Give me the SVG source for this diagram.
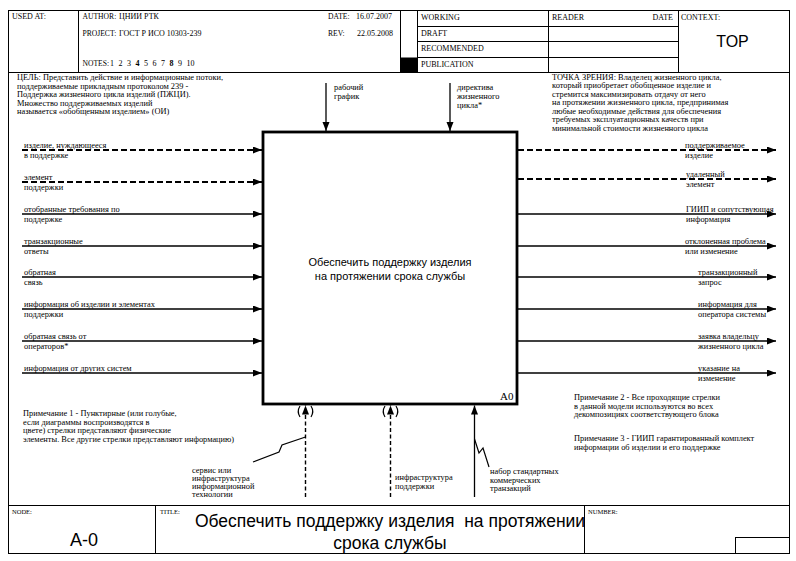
<svg xmlns="http://www.w3.org/2000/svg" width="796" height="561" viewBox="0 0 796 561">
<defs>
<style>
.t{font-family:"Liberation Serif","Times New Roman",serif;font-size:8.4px;fill:#000}
.h{font-family:"Liberation Serif","Times New Roman",serif;font-size:8px;fill:#000}
.hl{font-family:"Liberation Serif","Times New Roman",serif;font-size:7.6px;fill:#000}
.sm{font-family:"Liberation Serif","Times New Roman",serif;font-size:6.5px;fill:#000}
.s{font-family:"Liberation Sans",Arial,sans-serif;fill:#000}
.ln{stroke:#000;stroke-width:1;fill:none}
.arr{stroke:#000;stroke-width:1.3;fill:none;marker-end:url(#ah)}
.dsh{stroke-dasharray:6 3;stroke-width:1.8}
.vd{stroke-dasharray:4 2.5;stroke-width:1.4}
.zz{stroke:#000;stroke-width:1.2;fill:none}
</style>
<marker id="ah" markerUnits="userSpaceOnUse" markerWidth="10" markerHeight="8" refX="9" refY="3.5" orient="auto">
<path d="M0,0 L9,3.5 L0,7 z" fill="#000"/>
</marker>
</defs>
<rect width="796" height="561" fill="#fff"/>

<g id="header">
<rect x="8.5" y="10.5" width="781" height="62" class="ln"/>
<line x1="78.5" y1="10.5" x2="78.5" y2="72.5" class="ln"/>
<line x1="400.5" y1="10.5" x2="400.5" y2="72.5" class="ln"/>
<line x1="417.5" y1="10.5" x2="417.5" y2="72.5" class="ln"/>
<line x1="548.5" y1="10.5" x2="548.5" y2="72.5" class="ln"/>
<line x1="678.5" y1="10.5" x2="678.5" y2="72.5" class="ln"/>
<line x1="417.5" y1="26.5" x2="678.5" y2="26.5" class="ln"/>
<line x1="417.5" y1="41.5" x2="678.5" y2="41.5" class="ln"/>
<line x1="417.5" y1="57.5" x2="678.5" y2="57.5" class="ln"/>
<rect x="400.5" y="57.5" width="17" height="15" fill="#000"/>
<text class="h" x="12" y="19">USED AT:</text>
<text class="hl" x="82.5" y="19">AUTHOR:</text>
<text class="h" x="119" y="19">ЦНИИ РТК</text>
<text class="hl" x="82.5" y="35.5">PROJECT:</text>
<text class="h" x="119" y="35.5">ГОСТ Р ИСО 10303-239</text>
<text class="hl" x="82.5" y="65.5">NOTES:</text>
<text class="h" y="65.5"><tspan x="110">1</tspan><tspan x="118.5">2</tspan><tspan x="127">3</tspan><tspan x="135.5" font-weight="bold">4</tspan><tspan x="144">5</tspan><tspan x="152.5">6</tspan><tspan x="161">7</tspan><tspan x="169.5" font-weight="bold">8</tspan><tspan x="178">9</tspan><tspan x="186.5">10</tspan></text>
<text class="hl" x="328" y="19">DATE:</text>
<text class="h" x="356" y="19">16.07.2007</text>
<text class="hl" x="328" y="35.5">REV:</text>
<text class="h" x="357" y="35.5">22.05.2008</text>
<text class="h" x="421" y="19.5">WORKING</text>
<text class="h" x="421" y="35.5">DRAFT</text>
<text class="h" x="421" y="51">RECOMMENDED</text>
<text class="h" x="421" y="67">PUBLICATION</text>
<text class="h" x="552" y="19.5">READER</text>
<text class="h" x="652.5" y="19.5">DATE</text>
<text class="h" x="681" y="19.5">CONTEXT:</text>
<text class="s" x="732.5" y="47" font-size="16" text-anchor="middle">TOP</text>
</g>

<g id="frame">
<line x1="8.5" y1="72.5" x2="8.5" y2="505.5" class="ln"/>
<line x1="789.5" y1="72.5" x2="789.5" y2="505.5" class="ln"/>
</g>

<g id="purpose">
<text class="t" x="17" y="80">ЦЕЛЬ: Представить действие  и информационные потоки,</text>
<text class="t" x="17" y="88.5">поддерживаемые прикладным протоколом 239 -</text>
<text class="t" x="17" y="97">Поддержка жизненного цикла изделий (ПЖЦИ).</text>
<text class="t" x="17" y="105.5">Множество поддерживаемых изделий</text>
<text class="t" x="17" y="114">называется «обобщенным изделием» (ОИ)</text>
</g>

<g id="viewpoint">
<text class="t" x="552" y="79.5">ТОЧКА ЗРЕНИЯ: Владелец жизненного цикла,</text>
<text class="t" x="552" y="88">который приобретает обобщенное изделие и</text>
<text class="t" x="552" y="96.5">стремится максимизировать отдачу от него</text>
<text class="t" x="552" y="105">на протяжении жизненного цикла, предпринимая</text>
<text class="t" x="552" y="113.5">любые необходимые действия для обеспечения</text>
<text class="t" x="552" y="122">требуемых эксплуатационных качеств при</text>
<text class="t" x="552" y="130.5">минимальной стоимости жизненного цикла</text>
</g>

<g id="node-A0">
<rect x="263" y="132" width="254" height="272" fill="#fff" stroke="#000" stroke-width="2.8"/>
<text class="s" x="390" y="266" font-size="11" text-anchor="middle">Обеспечить поддержку изделия</text>
<text class="s" x="390" y="280" font-size="11" text-anchor="middle">на протяжении срока службы</text>
<text x="500" y="400" font-family="Liberation Serif,Times New Roman,serif" font-size="11">A0</text>
</g>

<g id="connectors">
<g id="in1"><path class="arr dsh" d="M22,150 H262"/><text class="t" x="24" y="147.5">изделие, нуждающееся</text><text class="t" x="24" y="158">в поддержке</text></g>
<g id="in2"><path class="arr dsh" d="M22,182 H262"/><text class="t" x="24" y="179.5">элемент</text><text class="t" x="24" y="190">поддержки</text></g>
<g id="in3"><path class="arr" d="M22,214 H262"/><text class="t" x="24" y="211.5">отобранные требования по</text><text class="t" x="24" y="222">поддержке</text></g>
<g id="in4"><path class="arr" d="M22,246 H262"/><text class="t" x="24" y="243.5">транзакционные</text><text class="t" x="24" y="254">ответы</text></g>
<g id="in5"><path class="arr" d="M22,277 H262"/><text class="t" x="24" y="274.5">обратная</text><text class="t" x="24" y="285">связь</text></g>
<g id="in6"><path class="arr" d="M22,309 H262"/><text class="t" x="24" y="306.5">информация об изделии и элементах</text><text class="t" x="24" y="317">поддержки</text></g>
<g id="in7"><path class="arr" d="M22,341 H262"/><text class="t" x="24" y="338.5">обратная связь от</text><text class="t" x="24" y="349">операторов*</text></g>
<g id="in8"><path class="arr" d="M22,373 H262"/><text class="t" x="24" y="370.5">информация от других систем</text></g>
<g id="out1"><path class="arr dsh" d="M518,150 H776"/><text class="t" x="685" y="147.5">поддерживаемое</text><text class="t" x="685" y="158">изделие</text></g>
<g id="out2"><path class="arr dsh" d="M518,179 H776" stroke="#666"/><text class="t" x="686" y="176.5">удаленный</text><text class="t" x="686" y="187">элемент</text></g>
<g id="out3"><path class="arr" d="M518,214 H776"/><text class="t" x="686" y="211.5">ГИИП и сопутствующая</text><text class="t" x="686" y="222">информация</text></g>
<g id="out4"><path class="arr" d="M518,246 H776"/><text class="t" x="685" y="243.5">отклоненная проблема</text><text class="t" x="685" y="254">или изменение</text></g>
<g id="out5"><path class="arr" d="M518,277 H776"/><text class="t" x="698" y="274.5">транзакционный</text><text class="t" x="698" y="285">запрос</text></g>
<g id="out6"><path class="arr" d="M518,309 H776"/><text class="t" x="698" y="306.5">информация для</text><text class="t" x="698" y="317">оператора системы</text></g>
<g id="out7"><path class="arr" d="M518,341 H776"/><text class="t" x="698" y="338.5">заявка владельцу</text><text class="t" x="698" y="349">жизненного цикла</text></g>
<g id="out8"><path class="arr" d="M518,373 H776"/><text class="t" x="698" y="370.5">указание на</text><text class="t" x="698" y="381">изменение</text></g>
<g id="ctl1"><path class="arr" d="M326,83 V131"/><text class="t" x="334" y="90">рабочий</text><text class="t" x="334" y="99">график</text></g>
<g id="ctl2"><path class="arr" d="M450,83 V131"/><text class="t" x="457" y="90">директива</text><text class="t" x="457" y="99">жизненного</text><text class="t" x="457" y="108">цикла*</text></g>
<g id="mech1"><path class="arr vd" d="M305.5,497 V405.5"/><path class="zz" d="M300,406 Q296.5,411.5 300,417 M311,406 Q314.5,411.5 311,417"/><path class="zz" d="M305.5,437 L282,445 L279,452 L253,462"/><text class="t" x="192" y="473">сервис или</text><text class="t" x="192" y="481">инфраструктура</text><text class="t" x="192" y="489">информационной</text><text class="t" x="192" y="497">технологии</text></g>
<g id="mech2"><path class="arr vd" d="M390.5,497 V405.5"/><path class="zz" d="M385,406 Q381.5,411.5 385,417 M396,406 Q399.5,411.5 396,417"/><text class="t" x="395" y="480">инфраструктура</text><text class="t" x="395" y="489">поддержки</text></g>
<g id="mech3"><path class="arr" d="M474.5,497 V405.5"/><path class="zz" d="M474.5,439 L479,453 L483,448 L489,467"/><text class="t" x="490" y="474">набор стандартных</text><text class="t" x="490" y="482.5">коммерческих</text><text class="t" x="490" y="491">транзакций</text></g>
</g>

<g id="notes">
<text class="t" x="23" y="416">Примечание 1 - Пунктирные (или голубые,</text>
<text class="t" x="23" y="424.5">если диаграммы воспроизводятся в</text>
<text class="t" x="23" y="433">цвете) стрелки представляют физические</text>
<text class="t" x="23" y="441.5">элементы. Все другие стрелки представляют информацию)</text>
<text class="t" x="574" y="400">Примечание 2 - Все проходящие стрелки</text>
<text class="t" x="574" y="408.5">в данной модели используются во всех</text>
<text class="t" x="574" y="417">декомпозициях соответствующего блока</text>
<text class="t" x="574" y="441">Примечание 3 - ГИИП гарантированный комплект</text>
<text class="t" x="574" y="449.5">информации об изделии и его поддержке</text>
</g>

<g id="footer">
<rect x="8.5" y="505.5" width="781" height="48" class="ln"/>
<line x1="155.5" y1="505.5" x2="155.5" y2="553.5" class="ln"/>
<line x1="584.5" y1="505.5" x2="584.5" y2="553.5" class="ln"/>
<rect x="735.5" y="537.5" width="54" height="16" class="ln"/>
<text class="sm" x="12" y="514">NODE:</text>
<text class="sm" x="160" y="514">TITLE:</text>
<text class="sm" x="588" y="514">NUMBER:</text>
<text class="s" x="84" y="546" font-size="18" text-anchor="middle">A-0</text>
<text class="s" x="390" y="527" font-size="17.5" text-anchor="middle" xml:space="preserve">Обеспечить поддержку изделия  на протяжении</text>
<text class="s" x="390" y="549" font-size="17.5" text-anchor="middle">срока службы</text>
</g>
</svg>
